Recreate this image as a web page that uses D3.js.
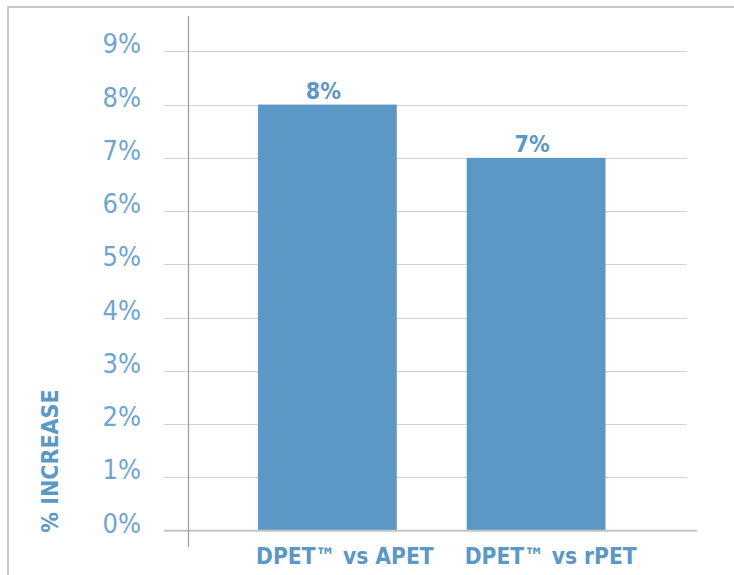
<!DOCTYPE html>
<html>
<head>
<meta charset="utf-8">
<script src="https://cdn.jsdelivr.net/npm/d3@7"></script>
<style>
  html, body { margin: 0; padding: 0; background: #fff; overflow: hidden; }
  svg { display: block; }
</style>
</head>
<body>
<svg id="chart" width="734" height="575"></svg>
<script>
const categories = ["DPET\u2122 vs APET", "DPET\u2122 vs rPET"];
const values = [8, 7];
const valueLabels = ["8%", "7%"];
const yTicks = [0, 1, 2, 3, 4, 5, 6, 7, 8, 9];
const yTickLabels = ["0%", "1%", "2%", "3%", "4%", "5%", "6%", "7%", "8%", "9%"];
const yTitle = "% INCREASE";

const svg = d3.select("#chart");
const barColor = "#5b98c6";
const tickColor = "#6fa5d0";
const labelColor = "#5b98c6";
const font = "'DejaVu Sans Condensed', 'DejaVu Sans', sans-serif";

// outer frame (top and left edges visible)
svg.append("line")
  .attr("x1", 7).attr("x2", 734).attr("y1", 7).attr("y2", 7)
  .attr("stroke", "#c8c8c8").attr("stroke-width", 2);
svg.append("line")
  .attr("x1", 8).attr("x2", 8).attr("y1", 6).attr("y2", 575)
  .attr("stroke", "#c8c8c8").attr("stroke-width", 2);

const y = d3.scaleLinear().domain([0, 9]).range([530.7, 51.3]);
const x = d3.scaleBand().domain(categories).range([258, 605.5])
  .paddingInner(0.335).paddingOuter(0);

// gridlines
svg.append("g").selectAll("line")
  .data(yTicks.filter(d => d !== 0))
  .join("line")
  .attr("x1", 164).attr("x2", 687)
  .attr("y1", d => Math.round(y(d)) + 0.5).attr("y2", d => Math.round(y(d)) + 0.5)
  .attr("stroke", "#d2d2d2").attr("stroke-width", 1.2);

// bars
svg.append("g").selectAll("rect")
  .data(values)
  .join("rect")
  .attr("x", (d, i) => x(categories[i]))
  .attr("width", x.bandwidth())
  .attr("y", d => y(d))
  .attr("height", d => y(0) - y(d))
  .attr("fill", barColor);

// baseline
svg.append("line")
  .attr("x1", 164).attr("x2", 697)
  .attr("y1", y(0)).attr("y2", y(0))
  .attr("stroke", "#c4c4c4").attr("stroke-width", 2);

// y axis line
svg.append("line")
  .attr("x1", 188.5).attr("x2", 188.5)
  .attr("y1", 16).attr("y2", 547)
  .attr("stroke", "#9a9a9a").attr("stroke-width", 1.2);

// y tick labels
svg.append("g").selectAll("text")
  .data(yTicks)
  .join("text")
  .attr("x", 141)
  .attr("y", d => y(d) + 2)
  .attr("text-anchor", "end")
  .attr("font-family", font)
  .attr("font-size", 27)
  .attr("fill", tickColor)
  .text((d, i) => yTickLabels[i]);

// value labels
svg.append("g").selectAll("text")
  .data(values)
  .join("text")
  .attr("x", (d, i) => x(categories[i]) + x.bandwidth() / 2 - 4)
  .attr("y", d => y(d) - 6)
  .attr("text-anchor", "middle")
  .attr("font-family", font)
  .attr("font-weight", "bold")
  .attr("font-size", 23)
  .attr("fill", labelColor)
  .text((d, i) => valueLabels[i]);

// category labels
svg.append("g").selectAll("text")
  .data(categories)
  .join("text")
  .attr("x", d => x(d) - 2)
  .attr("y", 564)
  .attr("text-anchor", "start")
  .attr("font-family", font)
  .attr("font-weight", "bold")
  .attr("font-size", 22.6)
  .attr("fill", labelColor)
  .text(d => d);

// y title
svg.append("text")
  .attr("transform", "translate(58,461) rotate(-90)")
  .attr("text-anchor", "middle")
  .attr("font-family", font)
  .attr("font-weight", "bold")
  .attr("font-size", 23)
  .attr("fill", labelColor)
  .text(yTitle);
</script>
</body>
</html>
